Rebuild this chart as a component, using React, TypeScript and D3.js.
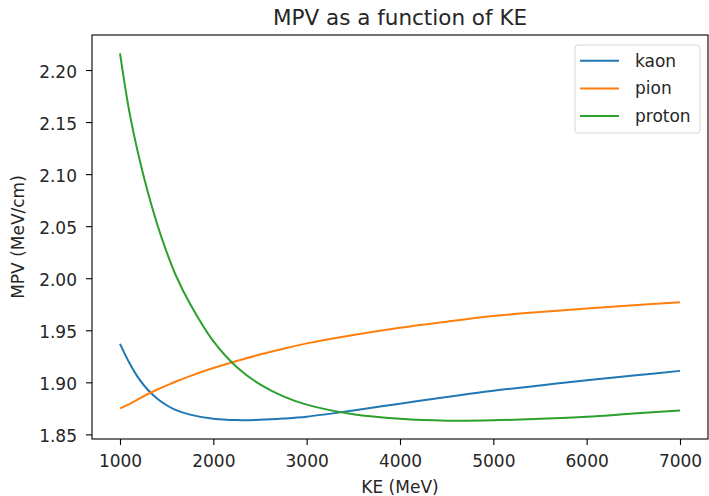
import { useEffect, useRef } from "react";
import * as d3 from "d3";

// kinetic energy grid (MeV)
const ke = [1000, 1100, 1200, 1300, 1400, 1500, 1600, 1750, 2000, 2250, 2500, 2750, 3000, 3500, 4000, 4500, 5000, 5500, 6000, 6500, 7000];

// most probable value (MeV/cm)
const kaon = [1.937, 1.9188, 1.9038, 1.8926, 1.8843, 1.878, 1.8733, 1.869, 1.865, 1.8637, 1.864, 1.8652, 1.867, 1.873, 1.8795, 1.886, 1.892, 1.897, 1.902, 1.9065, 1.911];
const pion = [1.875, 1.8791, 1.8841, 1.8888, 1.8931, 1.897, 1.9008, 1.906, 1.9137, 1.9205, 1.9267, 1.9323, 1.9374, 1.9455, 1.9525, 1.9583, 1.9636, 1.9675, 1.9709, 1.9741, 1.977];
const proton = [2.216, 2.16, 2.1176, 2.082, 2.0514, 2.0251, 2.0024, 1.9755, 1.9395, 1.9147, 1.898, 1.8865, 1.8786, 1.8693, 1.865, 1.8632, 1.8635, 1.865, 1.867, 1.87, 1.873];

const seriesNames = ["kaon", "pion", "proton"];
const colors = ["#1f77b4", "#ff7f0e", "#2ca02c"];
const xTicks = [1000, 2000, 3000, 4000, 5000, 6000, 7000];
const yTicks = [1.85, 1.9, 1.95, 2.0, 2.05, 2.1, 2.15, 2.2];

const W = 709;
const H = 496;
const FONT = "DejaVu Sans, sans-serif";

export default function App() {
  const ref = useRef<SVGSVGElement>(null);

  useEffect(() => {
    const svg = d3.select(ref.current);
    svg.selectAll("*").remove();

    const margin = { top: 35, right: 1, bottom: 57, left: 92 };
    const left = margin.left;
    const right = W - margin.right;
    const top = margin.top;
    const bottom = H - margin.bottom;

    const all = [...kaon, ...pion, ...proton];
    const yMin = d3.min(all)!;
    const yMax = d3.max(all)!;
    const yPad = (yMax - yMin) * 0.05;
    const xPad = (d3.max(ke)! - d3.min(ke)!) * 0.05;

    const x = d3.scaleLinear()
      .domain([d3.min(ke)! - xPad, d3.max(ke)! + xPad])
      .range([left, right]);
    const y = d3.scaleLinear()
      .domain([yMin - yPad, yMax + yPad])
      .range([bottom, top]);

    const data = [kaon, pion, proton];
    const line = d3.line<number>()
      .x((_, i) => x(ke[i]))
      .y(d => y(d))
      .curve(d3.curveCatmullRom.alpha(0.5));

    svg.append("g")
      .selectAll("path")
      .data(data)
      .enter().append("path")
      .attr("d", d => line(d))
      .attr("fill", "none")
      .attr("stroke", (_, i) => colors[i])
      .attr("stroke-width", 2);

    // x axis
    const xAxis = svg.append("g")
      .attr("transform", `translate(0,${bottom})`)
      .call(d3.axisBottom(x).tickValues(xTicks).tickFormat(d3.format("d")).tickSize(6).tickPadding(10));
    xAxis.select(".domain").remove();
    xAxis.selectAll("line").attr("stroke", "#000").attr("stroke-width", 1.1);
    xAxis.selectAll("text")
      .attr("font-family", FONT)
      .attr("font-size", 17)
      .attr("fill", "#262626");

    // y axis
    const yAxis = svg.append("g")
      .attr("transform", `translate(${left},0)`)
      .call(d3.axisLeft(y).tickValues(yTicks).tickFormat(d3.format(".2f")).tickSize(6).tickPadding(9));
    yAxis.select(".domain").remove();
    yAxis.selectAll("line").attr("stroke", "#000").attr("stroke-width", 1.1);
    yAxis.selectAll("text")
      .attr("font-family", FONT)
      .attr("font-size", 17)
      .attr("dy", "0.42em")
      .attr("fill", "#262626");

    // frame
    svg.append("rect")
      .attr("x", left)
      .attr("y", top)
      .attr("width", right - left)
      .attr("height", bottom - top)
      .attr("fill", "none")
      .attr("stroke", "#000")
      .attr("stroke-width", 1.1);

    // title and labels
    svg.append("text")
      .attr("x", (left + right) / 2)
      .attr("y", 25)
      .attr("text-anchor", "middle")
      .attr("font-family", FONT)
      .attr("font-size", 21.5)
      .attr("fill", "#262626")
      .text("MPV as a function of KE");

    svg.append("text")
      .attr("x", (left + right) / 2)
      .attr("y", 493)
      .attr("text-anchor", "middle")
      .attr("font-family", FONT)
      .attr("font-size", 17)
      .attr("fill", "#262626")
      .text("KE (MeV)");

    svg.append("text")
      .attr("transform", `translate(24,${(top + bottom) / 2}) rotate(-90)`)
      .attr("text-anchor", "middle")
      .attr("font-family", FONT)
      .attr("font-size", 17)
      .attr("fill", "#262626")
      .text("MPV (MeV/cm)");

    // legend
    const lg = svg.append("g").attr("transform", "translate(575,45)");
    lg.append("rect")
      .attr("width", 125)
      .attr("height", 88)
      .attr("rx", 3)
      .attr("fill", "#fff")
      .attr("fill-opacity", 0.8)
      .attr("stroke", "#d6d6d6");
    seriesNames.forEach((name, i) => {
      const cy = 15.7 + i * 27.7;
      lg.append("line")
        .attr("x1", 5).attr("x2", 44)
        .attr("y1", cy).attr("y2", cy)
        .attr("stroke", colors[i])
        .attr("stroke-width", 2);
      lg.append("text")
        .attr("x", 60)
        .attr("y", cy)
        .attr("dy", "0.35em")
        .attr("font-family", FONT)
        .attr("font-size", 17)
        .attr("fill", "#262626")
        .text(name);
    });
  }, []);

  return (
    <svg ref={ref} width={W} height={H}
      style={{ position: "absolute", left: 0, top: 0, background: "#fff" }} />
  );
}
